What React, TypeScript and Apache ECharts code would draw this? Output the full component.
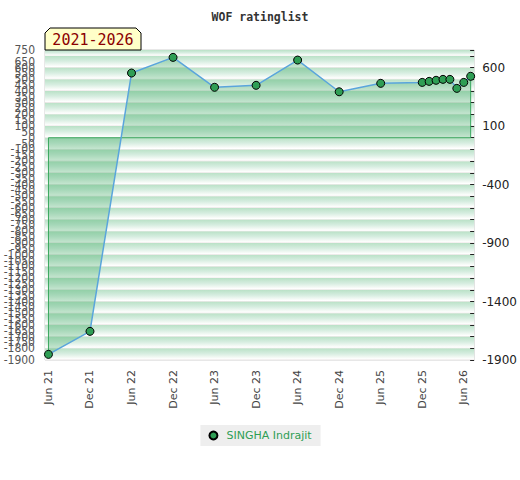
import React, { useEffect, useRef } from "react";
import * as echarts from "echarts";

const SERIES_NAME = "SINGHA Indrajit";
const TITLE = "WOF ratinglist";
const PERIOD_LABEL = "2021-2026";
const dates = [
  "2021-06", "2021-12", "2022-06", "2022-12", "2023-06", "2023-12", "2024-06", "2024-12",
  "2025-06", "2025-12", "2026-01", "2026-02", "2026-03", "2026-04", "2026-05", "2026-06", "2026-07",
];
const ratings = [-1852, -1655, 553, 687, 431, 448, 664, 393, 465, 473, 482, 491, 499, 499, 422, 473, 525];
const tickDates = [
  "2021-06", "2021-12", "2022-06", "2022-12", "2023-06", "2023-12",
  "2024-06", "2024-12", "2025-06", "2025-12", "2026-06",
];
const tickLabels = [
  "Jun 21", "Dec 21", "Jun 22", "Dec 22", "Jun 23", "Dec 23",
  "Jun 24", "Dec 24", "Jun 25", "Dec 25", "Jun 26",
];
const rightLabels = [600, 100, -400, -900, -1400, -1900];

const toMonth = (d: string) => {
  const [y, m] = d.split("-").map(Number);
  return (y - 2021) * 12 + (m - 6);
};

export default function App() {
  const ref = useRef<HTMLDivElement>(null);
  useEffect(() => {
    if (!ref.current) return;
    const chart = echarts.init(ref.current, null, { renderer: "svg" });
    const pts = dates.map((d, i) => [toMonth(d), ratings[i]]);
    const first = pts[0];
    const last = pts[pts.length - 1];
    const baseline = [
      [first[0], first[1]],
      [first[0], 0],
      [last[0], 0],
      [last[0], last[1]],
    ];
    const tickPos = tickDates.map(toMonth);
    const stripe = new echarts.graphic.LinearGradient(0, 0, 0, 1, [
      { offset: 0, color: "#b9e1c6" },
      { offset: 0.45, color: "#d6ede0" },
      { offset: 0.8, color: "#f5faf6" },
      { offset: 0.92, color: "#ffffff" },
      { offset: 1, color: "#e6dfdf" },
    ]);
    chart.setOption({
      animation: false,
      title: {
        text: TITLE,
        left: "center",
        top: 6,
        textStyle: {
          fontFamily: "'DejaVu Sans Mono', monospace",
          fontSize: 11.5,
          fontWeight: "bold",
          color: "#333",
        },
      },
      legend: {
        data: [SERIES_NAME],
        top: 425,
        left: "center",
        backgroundColor: "#eeeeee",
        padding: [5, 9, 5, 8],
        itemWidth: 8,
        itemHeight: 8,
        itemGap: 8,
        icon: "circle",
        textStyle: { color: "#2f9e55", fontSize: 11, fontFamily: "'DejaVu Sans', sans-serif", padding: [0, 0, 0, 4] },
      },
      grid: {
        left: 45,
        top: 50,
        width: 431,
        height: 310,
        show: true,
        borderColor: "#d0d0d0",
        borderWidth: 1,
      },
      xAxis: {
        type: "value",
        min: -0.5,
        max: 61.5,
        splitLine: { show: false },
        axisLine: { show: false },
        axisTick: { show: false },
        axisLabel: {
          customValues: tickPos,
          rotate: 90,
          margin: 10,
          color: "#444",
          fontSize: 11,
          fontFamily: "'DejaVu Sans', sans-serif",
          formatter: (v: number) => {
            const i = tickPos.indexOf(v);
            return i >= 0 ? tickLabels[i] : "";
          },
        },
      },
      yAxis: [
        {
          type: "value",
          position: "left",
          min: -1900,
          max: 750,
          interval: 50,
          splitLine: { show: false },
          axisLine: { show: false },
          axisTick: { show: false },
          axisLabel: {
            margin: 10,
            color: "#555",
            fontSize: 12,
            showMinLabel: true,
            showMaxLabel: true,
            hideOverlap: false,
            fontFamily: "'DejaVu Sans Condensed', 'Liberation Sans Narrow', sans-serif",
            formatter: (v: number) => String(v),
          },
        },
        {
          type: "value",
          position: "right",
          min: -1900,
          max: 750,
          interval: 100,
          splitLine: { show: false },
          splitArea: { show: true, areaStyle: { color: [stripe, stripe] } },
          axisLine: { show: false },
          axisTick: { show: true, inside: true, length: 4, lineStyle: { color: "#222" } },
          axisLabel: {
            margin: 8,
            color: "#222",
            fontSize: 12,
            fontFamily: "'DejaVu Sans', sans-serif",
            formatter: (v: number) => (rightLabels.includes(v) ? String(v) : ""),
          },
        },
      ],
      series: [
        {
          name: "baseline",
          type: "line",
          data: baseline,
          symbol: "none",
          silent: true,
          lineStyle: { color: "#3aa85e", width: 1 },
          z: 2,
        },
        {
          name: SERIES_NAME,
          type: "line",
          data: pts,
          symbol: "circle",
          symbolSize: 8,
          itemStyle: { color: "#2f9e55", borderColor: "#000", borderWidth: 1 },
          lineStyle: { color: "#5aa5dc", width: 1.5 },
          areaStyle: { color: "rgba(60,170,100,0.45)", origin: 0 },
          z: 3,
        },
      ],
      graphic: [
        {
          type: "polygon",
          shape: {
            points: [
              [45, 50], [45, 33], [50, 28], [136, 28], [141, 33], [141, 50],
            ],
          },
          style: { fill: "#ffffc8", stroke: "#000", lineWidth: 1 },
          z: 10,
        },
        {
          type: "text",
          x: 93,
          y: 40,
          style: {
            text: PERIOD_LABEL,
            fill: "#8b0000",
            fontSize: 15,
            fontFamily: "'DejaVu Sans Mono', monospace",
            align: "center",
            verticalAlign: "middle",
          },
          z: 11,
        },
      ],
    });
    return () => chart.dispose();
  }, []);
  return (
    <div
      ref={ref}
      style={{ position: "absolute", left: 0, top: 0, width: 520, height: 480 }}
    />
  );
}
